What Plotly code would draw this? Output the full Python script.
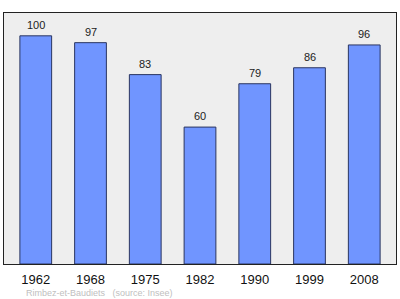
import plotly.graph_objects as go

years = ["1962", "1968", "1975", "1982", "1990", "1999", "2008"]
population = [100, 97, 83, 60, 79, 86, 96]
source_text = "Rimbez-et-Baudiets   (source: Insee)"

fig = go.Figure()
fig.add_trace(go.Bar(
    x=list(range(len(years))),
    y=population,
    width=0.58,
    marker=dict(color="#7095ff", line=dict(color="#2a3560", width=1)),
    hoverinfo="skip",
))

for i, v in enumerate(population):
    fig.add_annotation(x=i, y=v, text=str(v), showarrow=False,
                       yanchor="bottom", yshift=3,
                       font=dict(family="Liberation Sans", size=11, color="#222222"))

fig.add_annotation(xref="paper", yref="paper", x=0.05, y=-0.115,
                   xanchor="left", yanchor="middle", showarrow=False,
                   text=source_text,
                   font=dict(family="Liberation Sans", size=9, color="#c0c0c0"))

fig.update_layout(
    width=400, height=299,
    margin=dict(l=4, r=4, t=13, b=35),
    paper_bgcolor="white",
    plot_bgcolor="#eeeeee",
    showlegend=False,
    bargap=0.42,
)
fig.update_xaxes(range=[-0.58, 6.58], tickvals=list(range(len(years))), ticktext=years,
                 showgrid=False, zeroline=False, showline=True, mirror=True,
                 linecolor="#222222", linewidth=1, ticks="", ticklabelstandoff=3,
                 tickfont=dict(family="Liberation Sans", size=13, color="#111111"))
fig.update_yaxes(range=[0, 110], showgrid=False, zeroline=False, showline=True, mirror=True,
                 linecolor="#222222", linewidth=1, showticklabels=False, ticks="")

fig.write_html("out.html")
